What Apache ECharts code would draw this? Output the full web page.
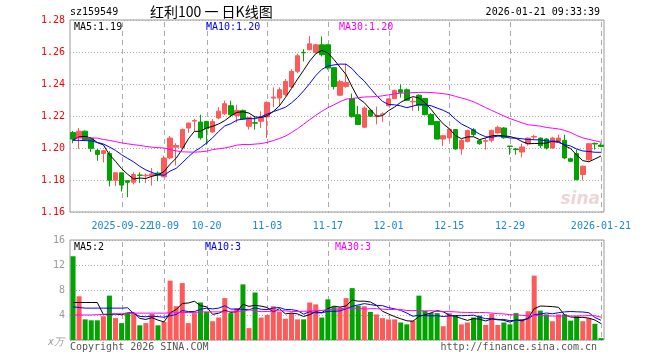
<!DOCTYPE html>
<html><head><meta charset="utf-8">
<script src="https://cdn.jsdelivr.net/npm/echarts@6/dist/echarts.min.js"></script>
<style>html,body{margin:0;padding:0;background:#fff}#c{width:660px;height:360px}</style>
</head><body><div id="c"></div>
<script>
// ---- data ----
const dates = [
'2025-09-10','2025-09-11','2025-09-12','2025-09-15','2025-09-16','2025-09-17','2025-09-18','2025-09-19','2025-09-22','2025-09-23',
'2025-09-24','2025-09-25','2025-09-26','2025-09-29','2025-09-30','2025-10-09','2025-10-10','2025-10-13','2025-10-14','2025-10-15',
'2025-10-16','2025-10-17','2025-10-20','2025-10-21','2025-10-22','2025-10-23','2025-10-24','2025-10-27','2025-10-28','2025-10-29',
'2025-10-30','2025-10-31','2025-11-03','2025-11-04','2025-11-05','2025-11-06','2025-11-07','2025-11-10','2025-11-11','2025-11-12',
'2025-11-13','2025-11-14','2025-11-17','2025-11-18','2025-11-19','2025-11-20','2025-11-21','2025-11-24','2025-11-25','2025-11-26',
'2025-11-27','2025-11-28','2025-12-01','2025-12-02','2025-12-03','2025-12-04','2025-12-05','2025-12-08','2025-12-09','2025-12-10',
'2025-12-11','2025-12-12','2025-12-15','2025-12-16','2025-12-17','2025-12-18','2025-12-19','2025-12-22','2025-12-23','2025-12-24',
'2025-12-25','2025-12-26','2025-12-29','2025-12-30','2025-12-31','2026-01-05','2026-01-06','2026-01-07','2026-01-08','2026-01-09',
'2026-01-12','2026-01-13','2026-01-14','2026-01-15','2026-01-16','2026-01-19','2026-01-20','2026-01-21'];

const opens = [1.2097,1.2065,1.2105,1.2060,1.1985,1.1965,1.1965,1.1798,1.1845,1.1796,
1.1786,1.1831,1.1826,1.1826,1.1843,1.1820,1.1938,1.2005,1.2003,1.2125,
1.2168,1.2162,1.2166,1.2100,1.2188,1.2214,1.2264,1.2202,1.2235,1.2136,
1.2158,1.2167,1.2194,1.2312,1.2312,1.2333,1.2381,1.2479,1.2598,1.2614,
1.2598,1.2645,1.2645,1.2502,1.2330,1.2385,1.2309,1.2208,1.2130,1.2236,
1.2196,1.2210,1.2264,1.2308,1.2364,1.2364,1.2288,1.2330,1.2310,1.2210,
1.2166,1.2056,1.2063,1.2115,1.1994,1.2040,1.2114,1.2046,1.2042,1.2048,
1.2094,1.2125,1.2012,1.1994,1.1975,1.2027,1.2068,1.2062,1.2056,1.2000,
1.2042,1.2048,1.1933,1.1965,1.1834,1.1927,1.2029,1.2018];

const closes = [1.2056,1.2105,1.2050,1.1998,1.1960,1.1983,1.1798,1.1845,1.1768,1.1786,
1.1834,1.1829,1.1830,1.1838,1.1830,1.1937,1.2062,1.2015,1.2115,1.2156,
1.2172,1.2064,1.2120,1.2165,1.2230,1.2277,1.2208,1.2235,1.2181,1.2190,
1.2155,1.2194,1.2285,1.2318,1.2364,1.2416,1.2479,1.2576,1.2595,1.2651,
1.2645,1.2583,1.2500,1.2384,1.2415,1.2410,1.2196,1.2147,1.2250,1.2199,
1.2201,1.2213,1.2307,1.2360,1.2348,1.2298,1.2292,1.2266,1.2208,1.2146,
1.2056,1.2077,1.2117,1.1994,1.2048,1.2110,1.2084,1.2027,1.2046,1.2110,
1.2129,1.2064,1.2010,1.1990,1.2006,1.2062,1.2072,1.2015,1.2000,1.2062,
1.2062,1.1938,1.1917,1.1802,1.1886,1.2027,1.2025,1.2010];

const lows = [1.2030,1.1995,1.2045,1.1975,1.1920,1.1910,1.1760,1.1762,1.1728,1.1693,
1.1772,1.1782,1.1780,1.1765,1.1792,1.1817,1.1930,1.1890,1.1995,1.2095,
1.2104,1.2052,1.2020,1.2095,1.2180,1.2205,1.2193,1.2160,1.2175,1.2115,
1.2115,1.2125,1.2063,1.2256,1.2260,1.2323,1.2375,1.2468,1.2541,1.2610,
1.2590,1.2572,1.2490,1.2365,1.2325,1.2377,1.2190,1.2143,1.2125,1.2195,
1.2148,1.2163,1.2260,1.2306,1.2315,1.2295,1.2232,1.2232,1.2205,1.2143,
1.2054,1.2012,1.2042,1.1990,1.1958,1.2035,1.2073,1.2020,1.1990,1.2035,
1.2090,1.2058,1.1958,1.1958,1.1942,1.2015,1.2050,1.2000,1.1990,1.1995,
1.2035,1.1930,1.1912,1.1798,1.1798,1.1920,1.1990,1.2005];

const highs = [1.2106,1.2125,1.2110,1.2066,1.1995,1.1988,1.1980,1.1846,1.1846,1.1797,
1.1848,1.1848,1.1840,1.1875,1.1853,1.1952,1.2075,1.2030,1.2122,1.2158,
1.2182,1.2208,1.2170,1.2181,1.2255,1.2296,1.2296,1.2270,1.2240,1.2192,
1.2194,1.2229,1.2292,1.2379,1.2379,1.2431,1.2493,1.2589,1.2618,1.2701,
1.2651,1.2697,1.2647,1.2505,1.2427,1.2527,1.2340,1.2263,1.2260,1.2245,
1.2259,1.2222,1.2312,1.2364,1.2398,1.2372,1.2315,1.2336,1.2312,1.2219,
1.2168,1.2078,1.2126,1.2117,1.2055,1.2115,1.2125,1.2052,1.2062,1.2115,
1.2140,1.2130,1.2012,1.2000,1.2027,1.2065,1.2083,1.2065,1.2062,1.2070,
1.2083,1.2083,1.1940,1.1990,1.1890,1.2030,1.2035,1.2030];

const volumes = [13.4,7.0,3.3,3.15,3.15,3.8,7.1,3.5,2.7,4.4,
4.3,2.35,2.7,4.2,2.35,2.9,9.5,5.4,9.1,2.7,
4.3,6.0,4.5,3.0,3.6,6.7,4.3,5.1,8.9,1.9,
7.6,3.6,4.0,5.4,4.5,3.4,4.3,3.3,3.3,6.0,
5.7,3.6,6.5,5.3,5.2,6.7,8.3,5.5,5.4,4.5,
4.1,3.5,3.3,3.3,2.8,2.5,3.1,7.1,4.7,4.3,
4.3,2.2,4.3,3.9,2.5,2.8,3.6,3.9,2.4,4.2,
2.4,2.8,2.5,4.3,3.3,4.6,10.3,4.7,4.1,3.0,
4.1,4.1,3.1,3.8,3.0,3.5,2.6,0.3];

// moving-average values at the start of the window (prior days not shown)
const ma5Lead  = [1.2050,1.2070,1.2072,1.2062];
const ma10Lead = [1.2048,1.2048,1.2046,1.2044,1.2035,1.2025,1.2006,1.1985,1.1958];
const ma30Lead = [1.2063,1.2063,1.2063,1.2063,1.2062,1.2053,1.2048,1.2040,1.2032,1.2026,
1.2021,1.2016,1.2010,1.2005,1.2002,1.2000,1.1990,1.1982,1.1976,1.1975,
1.1974,1.1976,1.1980,1.1990,1.1995,1.2000,1.2008,1.2018,1.2022];
const volMa5Lead  = [6.0,6.0,6.0,6.0];
const volMa10Lead = [5.3,5.2,5.1,5.1,5.1,5.1,5.1,5.1,5.1];
const volMa30Lead = [4.0,4.0,4.0,4.0,4.05,4.1,4.2,4.2,4.2,4.25,4.3,4.3,4.3,4.3,4.3,4.3,4.35,4.35,4.4,4.4,4.4,4.5,4.5,4.5,4.5,4.5,4.6,4.6,4.6];

const tickDates = ['2025-09-22','2025-10-09','2025-10-20','2025-11-03','2025-11-17','2025-12-01','2025-12-15','2025-12-29','2026-01-21'];
const priceTicks = {min:1.16, max:1.28, step:0.02};
const volTicks = {min:0, max:16, step:4};

// ---- chart ----
function movingAvg(vals, n, lead){
  return vals.map((v,i)=>{
    if(i < n-1) return lead[i];
    let s = 0; for(let k=i-n+1;k<=i;k++) s += vals[k];
    return +(s/n).toFixed(5);
  });
}
const UP = '#ff5a5a', DOWN = '#00a300';
const MONO = '"DejaVu Sans Mono", "Liberation Mono", monospace';
const candles = dates.map((d,i)=>[opens[i], closes[i], lows[i], highs[i]]);
const volBars = volumes.map((v,i)=>({value:v, itemStyle:{color: closes[i] >= opens[i] ? UP : DOWN}}));

const chart = echarts.init(document.getElementById('c'), null, {renderer:'canvas'});
const lineS = (name, data, color, xi) => ({
  name, type:'line', data, xAxisIndex:xi, yAxisIndex:xi, showSymbol:false, symbol:'none',
  lineStyle:{color, width:1}, itemStyle:{color}, silent:true, z:5
});

const txt = (x,y,text,fill,opts={}) => ({type:'text', x, y, silent:true, z:100,
  style:Object.assign({text, fill, font:'10px '+MONO, verticalAlign:'middle', align:'left'}, opts)});

const dateLabel = (v)=> (v===tickDates[0] || v===tickDates[tickDates.length-1]) ? v : v.slice(5);
const labelAxis = (set) => ({type:'category', gridIndex:0, data:dates, boundaryGap:true, position:'bottom', offset:0,
  axisLine:{show:false}, axisTick:{show:false}, splitLine:{show:false},
  axisLabel:{interval:(i,v)=>set.indexOf(v)>=0, hideOverlap:false,
    color:'#1a86d8', fontFamily:MONO, fontSize:10, margin:9, formatter:dateLabel}});

const texts = [
  txt(70,12,'sz159549','#000'),
  txt(150,12,'红利100 一 日K线图','#000',{font:'14px "Noto Sans CJK SC", sans-serif'}),
  txt(600,12,'2026-01-21 09:33:39','#000',{align:'right'}),
  txt(74,27,'MA5:1.19','#000'),
  txt(206,27,'MA10:1.20','#0000ff'),
  txt(339,27,'MA30:1.20','#ff00ff'),
  txt(74,247,'MA5:2','#000'),
  txt(205,247,'MA10:3','#0000ff'),
  txt(335,247,'MA30:3','#ff00ff'),
  txt(48,342,'x万','#999999',{font:'italic 10px '+MONO}),
  txt(70,347,'Copyright 2026 SINA.COM','#555555'),
  txt(597,347,'http://finance.sina.com.cn','#555555',{align:'right'}),
  txt(600,200,'sina','#ead8d8',{align:'right', font:'italic bold 17px "DejaVu Sans", sans-serif'})
];

chart.setOption({
  animation:false,
  backgroundColor:'#fff',
  grid:[
    {left:70, top:20, width:534, height:192, show:true, borderColor:'#999', borderWidth:1, backgroundColor:'transparent'},
    {left:70, top:240, width:534, height:100, show:true, borderColor:'#999', borderWidth:1, backgroundColor:'transparent'}
  ],
  xAxis:[
    labelAxis(tickDates.filter((d,k)=>k%2===0)),
    {type:'category', gridIndex:1, data:dates, boundaryGap:true,
     axisLine:{show:false}, axisTick:{show:false}, splitLine:{show:false}, axisLabel:{show:false}},
    labelAxis(tickDates.filter((d,k)=>k%2===1))
  ],
  yAxis:[
    {type:'value', gridIndex:0, min:priceTicks.min, max:priceTicks.max, interval:priceTicks.step,
     axisLine:{show:false}, axisTick:{show:false},
     splitLine:{show:true, lineStyle:{color:'#aaaaaa', type:[1,2], width:1}},
     axisLabel:{color:'#ff0000', fontFamily:MONO, fontSize:10, margin:5, formatter:(v)=>v.toFixed(2)}},
    {type:'value', gridIndex:1, min:volTicks.min, max:volTicks.max, interval:volTicks.step,
     axisLine:{show:false}, axisTick:{show:false},
     splitLine:{show:true, lineStyle:{color:'#aaaaaa', type:[1,2], width:1}},
     axisLabel:{color:'#999999', fontFamily:MONO, fontSize:10, margin:5, formatter:(v)=> v===0 ? '' : String(v)}}
  ],
  series:[
    {type:'candlestick', name:'K', data:candles, xAxisIndex:0, yAxisIndex:0, barWidth:5, z:3,
     itemStyle:{color:UP, color0:DOWN, borderColor:UP, borderColor0:DOWN, borderWidth:1}},
    lineS('MA5',  movingAvg(closes,5,ma5Lead),  '#000000', 0),
    lineS('MA10', movingAvg(closes,10,ma10Lead), '#0000ff', 0),
    lineS('MA30', movingAvg(closes,30,ma30Lead), '#ff00ff', 0),
    {type:'bar', name:'VOL', data:volBars, xAxisIndex:1, yAxisIndex:1, barWidth:5, z:3},
    lineS('VMA5',  movingAvg(volumes,5,volMa5Lead),  '#000000', 1),
    lineS('VMA10', movingAvg(volumes,10,volMa10Lead), '#0000ff', 1),
    lineS('VMA30', movingAvg(volumes,30,volMa30Lead), '#ff00ff', 1)
  ],
  graphic: texts
});

// vertical dashed guide lines at the labelled dates, placed through the axes' own scales,
// drawn as short solid rectangles (5px on, 4px off)
const guides = [];
tickDates.forEach(d => {
  let px = chart.convertToPixel({xAxisIndex:0}, d);
  if (typeof px !== 'number' || isNaN(px)) px = chart.convertToPixel({xAxisIndex:0}, dates.indexOf(d));
  const x = Math.round(px);
  const ranges = [
    [chart.convertToPixel({yAxisIndex:0}, priceTicks.max), chart.convertToPixel({yAxisIndex:0}, priceTicks.min)],
    [chart.convertToPixel({yAxisIndex:1}, volTicks.max), chart.convertToPixel({yAxisIndex:1}, volTicks.min)]
  ];
  ranges.forEach(r => {
    for (let y = Math.round(r[0]) + 2; y < r[1]; y += 9) {
      guides.push({type:'rect', silent:true, z:1,
        shape:{x:x, y:y, width:1, height:Math.min(5, r[1]-y)},
        style:{fill:'#aaaaaa'}});
    }
  });
});
chart.setOption({graphic: texts.concat(guides)});
</script>
</body></html>
